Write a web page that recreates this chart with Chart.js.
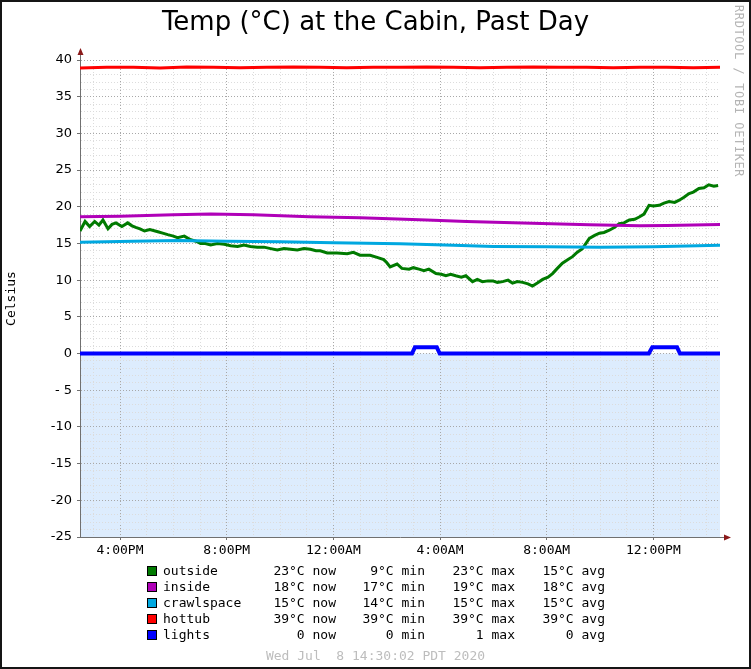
<!DOCTYPE html>
<html>
<head>
<meta charset="utf-8">
<script src="https://cdn.jsdelivr.net/npm/chart.js@4"></script>
<style>
  body { margin: 0; background: #fff; }
  #wrap { position: relative; width: 751px; height: 669px; overflow: hidden; background: #fff; }
  #frame { position: absolute; left: 0; top: 0; width: 751px; height: 669px; box-sizing: border-box; border: 2px solid #151515; pointer-events: none; }
  .mono { font-family: 'DejaVu Sans Mono', monospace; font-size: 13px; line-height: 16px; white-space: pre; position: absolute; }
  .sw { position: absolute; width: 8px; height: 8px; border: 1px solid #000; }
  #stamp { left: 0; width: 751px; top: 648px; text-align: center; color: #bdbdbd; }
  #brand { left: 731px; top: 5px; writing-mode: vertical-rl; color: #b4b4b4; font-size: 12px; letter-spacing: 0.6px; }
</style>
</head>
<body>
<div id="wrap">
  <canvas id="c" width="751" height="669"></canvas>
  <div id="legend"></div>
  <div id="stamp" class="mono">Wed Jul  8 14:30:02 PDT 2020</div>
  <div id="brand" class="mono">RRDTOOL / TOBI OETIKER</div>
  <div id="frame"></div>
</div>
<script>
// hours on the clock, 14.5 = 2:30PM yesterday, 38.5 = 2:30PM today
const outsideHours = [14.5, 14.69, 14.86, 15.05, 15.21, 15.36, 15.55, 15.7, 15.85, 16.07, 16.29, 16.45, 16.59, 16.75, 16.92, 17.12, 17.42, 17.6, 17.79, 18.0, 18.16, 18.41, 18.65, 18.85, 19.02, 19.2, 19.4, 19.65, 19.91, 20.15, 20.41, 20.65, 20.89, 21.15, 21.4, 21.65, 21.9, 22.15, 22.4, 22.65, 22.9, 23.14, 23.35, 23.51, 23.77, 24.14, 24.52, 24.75, 25.0, 25.38, 25.64, 25.89, 26.0, 26.13, 26.39, 26.57, 26.84, 27.0, 27.21, 27.4, 27.58, 27.85, 28.05, 28.22, 28.4, 28.59, 28.8, 28.97, 29.22, 29.4, 29.59, 29.8, 29.98, 30.15, 30.35, 30.55, 30.72, 30.9, 31.1, 31.3, 31.47, 31.65, 31.85, 32.05, 32.22, 32.4, 32.59, 32.8, 32.97, 33.15, 33.34, 33.6, 33.8, 33.98, 34.15, 34.35, 34.55, 34.72, 34.9, 35.1, 35.3, 35.47, 35.65, 35.84, 36.0, 36.22, 36.4, 36.59, 36.8, 36.97, 37.15, 37.34, 37.5, 37.71, 37.9, 38.08, 38.27, 38.43];
const outsideTemp  = [16.7, 18.0, 17.3, 18.0, 17.5, 18.2, 17.0, 17.6, 17.8, 17.3, 17.8, 17.4, 17.2, 17.0, 16.7, 16.9, 16.6, 16.4, 16.2, 16.0, 15.8, 16.0, 15.5, 15.3, 15.0, 15.0, 14.8, 15.0, 14.9, 14.7, 14.6, 14.8, 14.6, 14.5, 14.5, 14.3, 14.1, 14.3, 14.2, 14.1, 14.3, 14.2, 14.0, 14.0, 13.7, 13.7, 13.6, 13.8, 13.4, 13.4, 13.1, 12.8, 12.4, 11.8, 12.2, 11.6, 11.5, 11.7, 11.5, 11.3, 11.5, 10.9, 10.8, 10.6, 10.8, 10.6, 10.4, 10.6, 9.8, 10.1, 9.8, 9.9, 9.9, 9.7, 9.8, 10.0, 9.6, 9.8, 9.7, 9.5, 9.2, 9.6, 10.1, 10.4, 10.9, 11.6, 12.3, 12.8, 13.2, 13.8, 14.3, 15.7, 16.1, 16.4, 16.5, 16.8, 17.2, 17.7, 17.8, 18.2, 18.3, 18.6, 19.0, 20.2, 20.1, 20.2, 20.5, 20.7, 20.6, 20.9, 21.3, 21.8, 22.0, 22.5, 22.6, 23.0, 22.8, 22.9];

const insideHours = [14.5, 16.0, 18.0, 19.4, 21.0, 23.1, 25.0, 26.4, 27.5, 29.0, 31.1, 33.6, 35.5, 36.5, 38.5];
const insideTemp  = [18.65, 18.7, 18.9, 19.0, 18.9, 18.65, 18.5, 18.35, 18.2, 18.0, 17.8, 17.55, 17.4, 17.45, 17.6];

const crawlHours = [14.5, 16.5, 18.2, 20.0, 22.0, 24.0, 26.5, 28.5, 30.0, 32.0, 34.0, 36.0, 38.5];
const crawlTemp  = [15.15, 15.3, 15.4, 15.3, 15.25, 15.1, 14.95, 14.75, 14.6, 14.55, 14.5, 14.55, 14.75];

const hottubHours = [14.5, 15.5, 16.5, 17.5, 18.5, 19.5, 20.5, 21.5, 22.5, 23.5, 24.5, 25.5, 26.5, 27.5, 28.5, 29.5, 30.5, 31.5, 32.5, 33.5, 34.5, 35.5, 36.5, 37.5, 38.5];
const hottubTemp  = [38.9, 39.0, 39.0, 38.9, 39.05, 39.0, 38.95, 39.0, 39.05, 39.0, 38.95, 39.0, 39.0, 39.05, 39.0, 38.95, 39.0, 39.05, 39.0, 39.0, 38.95, 39.0, 39.0, 38.95, 39.0];

const lightsHours = [14.5, 26.95, 27.06, 27.88, 27.99, 35.83, 35.96, 36.89, 37.0, 38.5];
const lightsValue = [0, 0, 0.85, 0.85, 0, 0, 0.85, 0.85, 0, 0];

const seriesNames  = ['outside', 'inside', 'crawlspace', 'hottub', 'lights'];
const seriesColors = ['#007a00', '#b000b8', '#00a8e0', '#ff0000', '#0000ff'];
const nowText = ['23°C now', '18°C now', '15°C now', '39°C now', '0 now'];
const minText = ['9°C min', '17°C min', '14°C min', '39°C min', '0 min'];
const maxText = ['23°C max', '19°C max', '15°C max', '39°C max', '1 max'];
const avgText = ['15°C avg', '18°C avg', '15°C avg', '39°C avg', '0 avg'];

const xTickHours = [15, 16, 17, 18, 19, 20, 21, 22, 23, 24, 25, 26, 27, 28, 29, 30, 31, 32, 33, 34, 35, 36, 37, 38];
const xLabelHours = [16, 20, 24, 28, 32, 36];
const xLabels = ['4:00PM', '8:00PM', '12:00AM', '4:00AM', '8:00AM', '12:00PM'];
const yLabelValues = [40, 35, 30, 25, 20, 15, 10, 5, 0, -5, -10, -15, -20, -25];
const yLabels = ['40', '35', '30', '25', '20', '15', '10', '5', '0', '- 5', '-10', '-15', '-20', '-25'];

const pts = (hs, vs) => hs.map((h, i) => ({ x: h, y: vs[i] }));

// legend rows
const legend = document.getElementById('legend');
seriesNames.forEach((name, i) => {
  const cy = 571 + i * 16;
  const cols = [[nowText[i], 336], [minText[i], 425], [maxText[i], 515], [avgText[i], 605]];
  legend.innerHTML += `<div class="sw" style="left:147px;top:${cy - 5}px;background:${seriesColors[i]}"></div>` +
    `<div class="mono" style="left:163px;top:${cy - 8}px">${name}</div>` +
    cols.map(c => `<div class="mono" style="left:${c[1] - 100}px;width:100px;text-align:right;top:${cy - 8}px">${c[0]}</div>`).join('');
});

// light blue band below zero + axis arrows
const rrdBits = {
  id: 'rrdBits',
  beforeDraw(chart) {
    const { ctx, chartArea: a, scales: { y } } = chart;
    const y0 = y.getPixelForValue(0);
    ctx.save();
    ctx.fillStyle = '#ddecfd';
    ctx.fillRect(a.left, y0, a.right - a.left, a.bottom - y0);
    ctx.restore();
  },
  afterDraw(chart) {
    const { ctx, chartArea: a } = chart;
    ctx.save();
    ctx.strokeStyle = '#707070';
    ctx.lineWidth = 1;
    ctx.beginPath();
    ctx.moveTo(a.left + 0.5, a.top); ctx.lineTo(a.left + 0.5, a.top - 6);
    ctx.moveTo(a.right, a.bottom + 0.5); ctx.lineTo(a.right + 6, a.bottom + 0.5);
    ctx.stroke();
    ctx.fillStyle = '#8b1a1a';
    ctx.beginPath();
    ctx.moveTo(a.left + 0.5, a.top - 12); ctx.lineTo(a.left - 2.5, a.top - 5); ctx.lineTo(a.left + 3.5, a.top - 5);
    ctx.closePath(); ctx.fill();
    ctx.beginPath();
    ctx.moveTo(a.right + 11, a.bottom + 0.5); ctx.lineTo(a.right + 4, a.bottom - 2.5); ctx.lineTo(a.right + 4, a.bottom + 3.5);
    ctx.closePath(); ctx.fill();
    ctx.restore();
  }
};

const gridColor = (major) => (c) => (c.tick && major(c.tick.value)) ? '#a8a8a8' : '#dcdcdc';
const xMajor = v => xLabelHours.includes(v);
const yMajor = v => yLabelValues.includes(v);

new Chart(document.getElementById('c'), {
  type: 'line',
  data: {
    datasets: [
      { label: seriesNames[0], data: pts(outsideHours, outsideTemp), borderColor: seriesColors[0], borderWidth: 3, order: 5 },
      { label: seriesNames[1], data: pts(insideHours, insideTemp), borderColor: seriesColors[1], borderWidth: 3, order: 4 },
      { label: seriesNames[2], data: pts(crawlHours, crawlTemp), borderColor: seriesColors[2], borderWidth: 3, order: 3 },
      { label: seriesNames[3], data: pts(hottubHours, hottubTemp), borderColor: seriesColors[3], borderWidth: 3, order: 2 },
      { label: seriesNames[4], data: pts(lightsHours, lightsValue), borderColor: seriesColors[4], borderWidth: 4, order: 1 }
    ]
  },
  options: {
    responsive: false,
    devicePixelRatio: 1,
    animation: false,
    elements: { point: { radius: 0 }, line: { tension: 0, fill: false } },
    layout: { padding: 0 },
    plugins: {
      legend: { display: false },
      tooltip: { enabled: false },
      title: {
        display: true,
        text: 'Temp (°C) at the Cabin, Past Day',
        color: '#000',
        font: { family: 'DejaVu Sans', size: 26, weight: 'normal', lineHeight: 1.2 },
        padding: { top: 7.4, bottom: 21.4 }
      }
    },
    scales: {
      x: {
        type: 'linear',
        min: 14.5, max: 38.5,
        afterBuildTicks: s => { s.ticks = xTickHours.map(v => ({ value: v })); },
        afterFit: s => { s.height = 132; },
        grid: { color: gridColor(xMajor), tickColor: c => (c.tick && xMajor(c.tick.value)) ? '#707070' : 'transparent', tickLength: 3 },
        border: { color: '#707070', width: 1, dash: [1, 2] },
        ticks: {
          autoSkip: false, maxRotation: 0, padding: 3, color: '#000',
          font: { family: 'DejaVu Sans Mono', size: 13 },
          callback: v => { const i = xLabelHours.indexOf(v); return i < 0 ? '' : xLabels[i]; }
        }
      },
      y: {
        min: -25, max: 40,
        afterBuildTicks: s => { const t = []; for (let v = 40; v >= -25; v--) t.push({ value: v }); s.ticks = t.reverse(); },
        afterFit: s => { s.width = 80; },
        grid: { color: gridColor(yMajor), tickColor: c => (c.tick && yMajor(c.tick.value)) ? '#707070' : 'transparent', tickLength: 3 },
        border: { color: '#707070', width: 1, dash: [1, 2] },
        ticks: {
          autoSkip: false, padding: 5, color: '#000',
          font: { family: 'DejaVu Sans', size: 13 },
          callback: v => { const i = yLabelValues.indexOf(v); return i < 0 ? '' : yLabels[i]; }
        },
        title: {
          display: true, text: 'Celsius', color: '#000',
          font: { family: 'DejaVu Sans Mono', size: 13 },
          padding: { top: 4, bottom: 0 }
        }
      },
      // empty right-hand strip that keeps the plot ending at 720px
      yR: {
        position: 'right',
        min: -25, max: 40,
        afterFit: s => { s.width = 31; },
        grid: { display: false },
        border: { display: false },
        ticks: { display: false }
      }
    }
  },
  plugins: [rrdBits]
});
</script>
</body>
</html>
